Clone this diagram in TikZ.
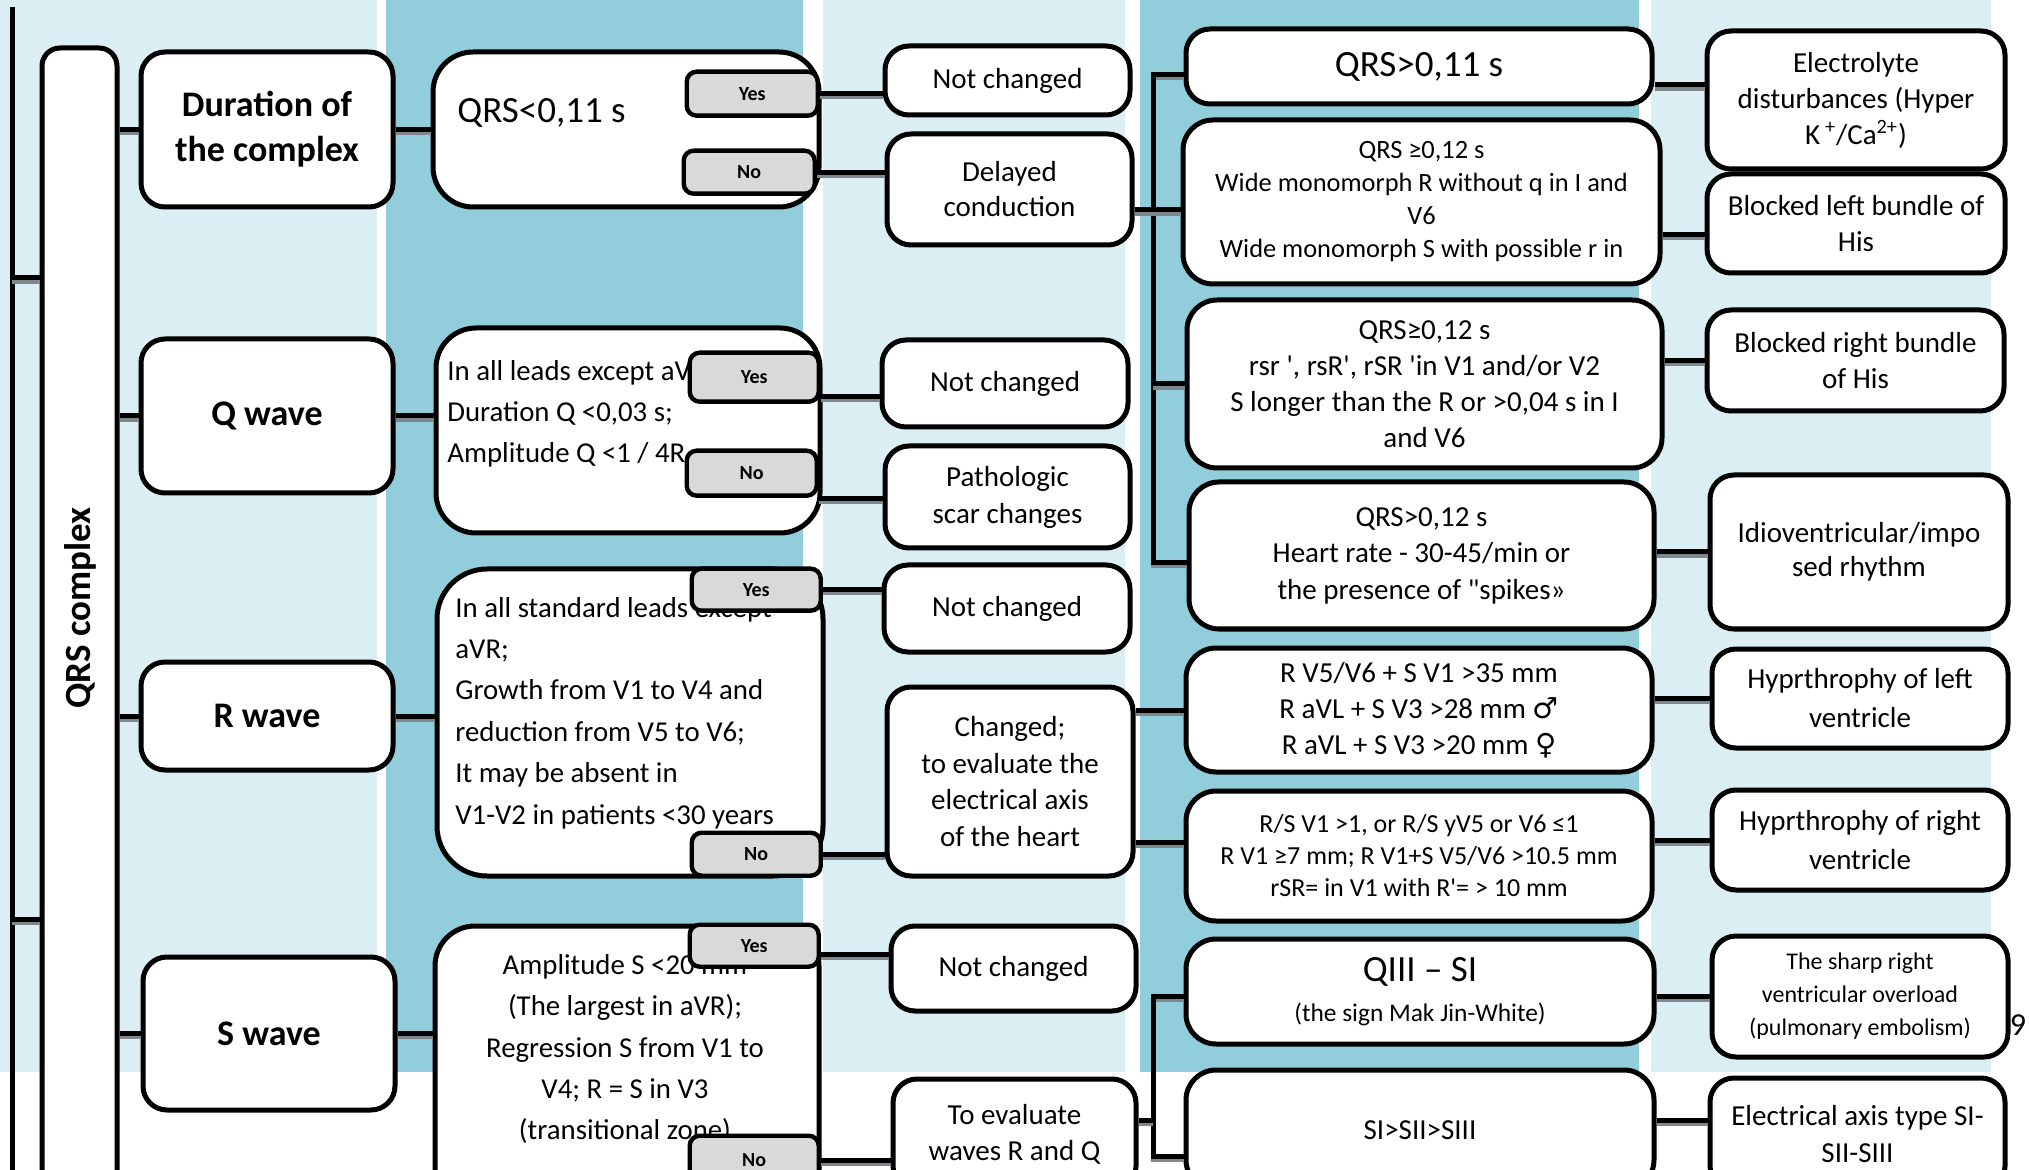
\documentclass[tikz,border=0pt]{standalone}
\usepackage{fontspec}
\setmainfont{Carlito}
\newfontfamily\symf{DejaVu Sans}
\usetikzlibrary{calc}
\definecolor{bandL}{HTML}{DAEEF3}
\definecolor{bandD}{HTML}{92CDDC}
\definecolor{btn}{HTML}{D9D9D9}
\definecolor{shd}{RGB}{125,135,140}
\newcommand\fz[2]{\fontsize{#1}{#2}\selectfont}
\tikzset{
 box/.style={draw=black, line width=2.5pt, fill=white, rounded corners=12pt, align=center, inner sep=0pt, font=\fz{14.5}{18}},
 crit/.style={box, rounded corners=20pt},
 btnbox/.style={draw=black, line width=2.2pt, fill=btn, rounded corners=5pt, inner sep=0pt, font=\bfseries\fz{10}{12}},
 big/.style={font=\bfseries\fz{18}{22.5}},
 conn/.style={draw=black, line width=2.5pt},
 shadowline/.style={draw=shd, line width=2.5pt, transform canvas={yshift=-1.6pt}},
 txt/.style={inner sep=0pt}
}
% style, name, x1, y1, x2, y2, text  (pixel coordinates, outer edges)
\newcommand\bx[7]{\node[#1, anchor=north west, minimum width={(#5-#3-5)*0.5pt}, minimum height={(#6-#4-5)*0.5pt}] (#2) at (#3+2.5,#4+2.5) {#7};}
\newcommand\cn[1]{\draw[shadowline] #1; \draw[conn] #1;}
\begin{document}
\begin{tikzpicture}[x=0.5pt,y=-0.5pt]
\useasboundingbox (0,0) rectangle (2029,1170);
\clip (0,0) rectangle (2029,1170);
% background bands
\fill[bandL] (0,0) rectangle (377,1072);
\fill[bandD] (386,0) rectangle (803,1072);
\fill[bandL] (823,0) rectangle (1125,1072);
\fill[bandD] (1140,0) rectangle (1639,1072);
\fill[bandL] (1651,0) rectangle (1991,1072);

% column 0
\bx{box, rounded corners=9pt}{qrs}{37}{43}{117}{1220}{}
\node[txt, rotate=90, font=\bfseries\fz{18.5}{22}] (qrst) at (80,608) {QRS complex};

% column 1
\bx{box, big}{dur}{136}{47}{393}{207}{Duration of\\the complex}
\bx{box, big}{qw}{136}{334}{393}{493}{Q wave}
\bx{box, big}{rw}{136}{657}{393}{770}{R wave}
\bx{box, big}{sw}{138}{952}{395}{1110}{S wave}

% column 2
\bx{crit}{cA}{428}{47}{819}{207}{}
\bx{crit}{cB}{431}{323}{820}{533}{}
\bx{crit, rounded corners=25pt}{cC}{432}{564}{823}{876}{}
\bx{crit}{cD}{430}{921}{819}{1220}{}
\node[txt, anchor=west, font=\fz{18.5}{22}] (tA) at (457,113) {QRS<0,11 s};
\node[txt, anchor=west, align=left, font=\fz{14.4}{20.5}] (tB) at (447,414) {In all leads except aVR;\\Duration Q <0,03 s;\\Amplitude Q <1 / 4R};
\node[txt, anchor=west, align=left, font=\fz{14.4}{20.7}] (tC) at (455,713) {In all standard leads except\\aVR;\\Growth from V1 to V4 and\\reduction from V5 to V6;\\It may be absent in\\V1-V2 in patients <30 years};
\node[txt, align=center, font=\fz{14.4}{20.7}] (tD) at (625,1049) {Amplitude S <20 mm\\(The largest in aVR);\\Regression S from V1 to\\V4; R = S in V3\\(transitional zone)};
\bx{btnbox}{yA}{682}{67}{818}{116}{Yes}
\bx{btnbox}{nA}{679}{146}{815}{194}{No}
\bx{btnbox}{yB}{685}{348}{819}{402}{Yes}
\bx{btnbox}{nB}{682}{446}{817}{496}{No}
\bx{btnbox}{yC}{687}{564}{821}{611}{Yes}
\bx{btnbox}{nC}{687}{828}{821}{876}{No}
\bx{btnbox}{yD}{685}{920}{819}{967}{Yes}
\bx{btnbox}{nD}{685}{1131}{819}{1185}{No}

% column 3
\bx{box}{ncA}{880}{41}{1130}{115}{Not changed}
\bx{box, font=\fz{14.5}{17.5}}{del}{882}{129}{1132}{245}{Delayed\\conduction}
\bx{box}{ncB}{877}{335}{1128}{427}{Not changed}
\bx{box, font=\fz{14.5}{18.5}}{pat}{880}{441}{1130}{548}{Pathologic\\scar changes}
\bx{box}{ncC}{879}{560}{1130}{652}{Not changed}
\bx{box, font=\fz{14.5}{18.25}}{chg}{882}{682}{1133}{876}{Changed;\\to evaluate the\\electrical axis\\of the heart}
\bx{box}{ncD}{886}{921}{1136}{1011}{Not changed}
\bx{box}{tev}{888}{1074}{1136}{1190}{To evaluate\\waves R and Q}

% column 4
\bx{box, font=\fz{18.5}{22}}{qel}{1181}{24}{1652}{104}{QRS>0,11 s}
\bx{box, rounded corners=15pt, font=\fz{13.2}{16.5}}{lbbb}{1178}{115}{1660}{284}{QRS ≥0,12 s\\Wide monomorph R without q in I and\\V6\\Wide monomorph S with possible r in}
\bx{box, rounded corners=15pt}{rbbb}{1182}{295}{1662}{468}{QRS≥0,12 s\\rsr \textquotesingle, rsR\textquotesingle, rSR \textquotesingle in V1 and/or V2\\S longer than the R or >0,04 s in I\\and V6}
\bx{box, rounded corners=15pt, font=\fz{14.5}{18.25}}{idf}{1184}{477}{1654}{629}{QRS>0,12 s\\Heart rate - 30-45/min or\\the presence of \textquotedbl spikes»}
\bx{box, rounded corners=15pt}{lvh}{1181}{643}{1652}{772}{R V5/V6 + S V1 >35 mm\\R aVL + S V3 >28 mm {\symf ♂}\\R aVL + S V3 >20 mm {\symf ♀}}
\bx{box, rounded corners=15pt, font=\fz{13}{16}}{rvh}{1181}{786}{1652}{921}{R/S V1 >1, or R/S yV5 or V6 ≤1\\R V1 ≥7 mm; R V1+S V5/V6 >10.5 mm\\rSR= in V1 with R\textquotesingle= > 10 mm}
\bx{box, rounded corners=15pt, font=\fz{18.5}{20}}{qiii}{1181}{934}{1654}{1044}{QIII – SI\\{\fz{12.7}{16}(the sign Mak Jin-White)}}
\bx{box, rounded corners=15pt}{sis}{1181}{1065}{1654}{1190}{SI>SII>SIII}

% column 5
\bx{box}{ele}{1702}{26}{2005}{169}{Electrolyte\\disturbances (Hyper\\K\,\textsuperscript{+}/Ca\textsuperscript{2+})}
\bx{box}{bll}{1702}{169}{2005}{273}{Blocked left bundle of\\His}
\bx{box}{blr}{1702}{305}{2004}{411}{Blocked right bundle\\of His}
\bx{box, font=\fz{14.5}{17}}{idr}{1705}{470}{2008}{629}{Idioventricular/impo\\sed rhythm}
\bx{box, font=\fz{14.5}{19.5}}{hyl}{1707}{644}{2008}{748}{Hyprthrophy of left\\ventricle}
\bx{box, font=\fz{14.5}{19.5}}{hyr}{1707}{785}{2008}{890}{Hyprthrophy of right\\ventricle}
\bx{box, font=\fz{12}{16.5}}{shp}{1707}{931}{2008}{1057}{The sharp right\\ventricular overload\\(pulmonary embolism)}
\bx{box, font=\fz{14.5}{18.5}}{eax}{1705}{1073}{2005}{1190}{Electrical axis type SI-\\SII-SIII}
\node[txt, font=\fz{16}{18}] (pg) at (2018,1025) {9};

% connectors
\coordinate (vtop) at (12,7);
\coordinate (vbot) at (12,1180);
\coordinate (vs1) at (12,278);
\coordinate (vs2) at (12,919);
\cn{(vtop) -- (vbot)}
\cn{(vs1) -- (vs1 -| qrs.west)}
\cn{(vs2) -- (vs2 -| qrs.west)}
\cn{(qrs.east |- dur.west) -- (dur.west)}
\cn{(qrs.east |- qw.west) -- (qw.west)}
\cn{(qrs.east |- rw.west) -- (rw.west)}
\cn{(qrs.east |- sw.west) -- (sw.west)}
\cn{(dur.east) -- (dur.east -| cA.west)}
\cn{(qw.east) -- (qw.east -| cB.west)}
\cn{(rw.east) -- (rw.east -| cC.west)}
\cn{(sw.east) -- (sw.east -| cD.west)}
% yes/no to column 3
\cn{(yA.east) -- (yA.east -| ncA.west)}
\cn{(nA.east) -- (nA.east -| del.west)}
\coordinate (a2) at ($(yB.east)+(0,19)$);
\cn{(a2) -- (a2 -| ncB.west)}
\coordinate (a3) at ($(nB.east)+(0,25)$);
\cn{(a3) -- (a3 -| pat.west)}
\cn{(yC.east) -- (yC.east -| ncC.west)}
\cn{(nC.east) -- (nC.east -| chg.west)}
\coordinate (a4) at ($(yD.east)+(0,9)$);
\cn{(a4) -- (a4 -| ncD.west)}
\cn{(nD.east) -- (nD.east -| tev.west)}
% bracket 1
\coordinate (kx) at (1153,0);
\coordinate (k1) at ($(qel.west)+(0,8)$);
\coordinate (k4) at ($(idf.west)+(0,7)$);
\cn{(k1) -- (k1 -| kx) -- (k4 -| kx) -- (k4)}
\coordinate (k2) at ($(lbbb.west)+(0,8)$);
\cn{(k2 -| del.east) -- (k2)}
\cn{(kx |- rbbb.west) -- (rbbb.west)}
% changed
\cn{(lvh.west -| chg.east) -- (lvh.west)}
\coordinate (k5) at ($(rvh.west)+(0,-14)$);
\cn{(k5 -| chg.east) -- (k5)}
% bracket 2
\coordinate (m1) at ($(qiii.west)+(0,5)$);
\coordinate (m2) at ($(sis.west)+(0,26)$);
\cn{(m1) -- (m1 -| kx) -- (m2 -| kx) -- (m2)}
\coordinate (m3) at ($(tev.east)+(0,-14)$);
\cn{(m3) -- (m3 -| kx)}
% column 4 to 5
\coordinate (e1) at ($(ele.west)+(0,-15)$);
\cn{(e1 -| qel.east) -- (e1)}
\coordinate (e2) at ($(bll.west)+(0,11)$);
\cn{(e2 -| lbbb.east) -- (e2)}
\cn{(rbbb.east |- blr.west) -- (blr.west)}
\cn{(idf.east |- idr.west) -- (idr.west)}
\cn{(lvh.east |- hyl.west) -- (hyl.west)}
\cn{(rvh.east |- hyr.west) -- (hyr.west)}
\cn{(qiii.east |- shp.west) -- (shp.west)}
\coordinate (e3) at ($(eax.west)+(0,-14)$);
\cn{(e3 -| sis.east) -- (e3)}
\end{tikzpicture}
\end{document}
